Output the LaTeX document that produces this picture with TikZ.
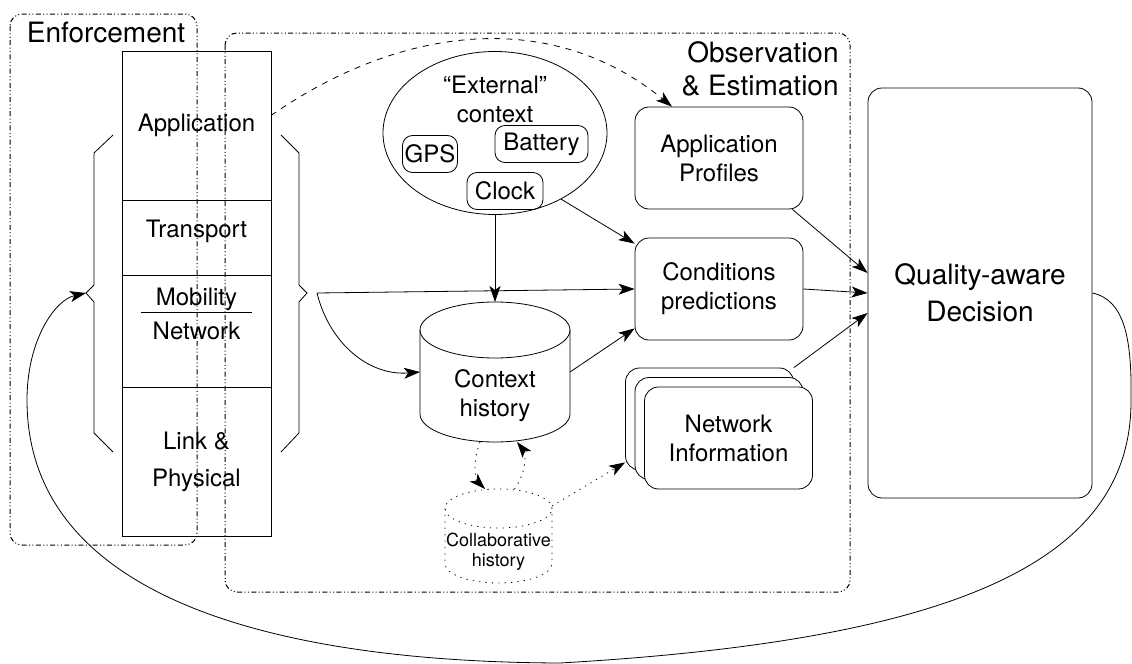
\documentclass[tikz,border=0pt]{standalone}
\usepackage{fontspec}
\setmainfont{TeX Gyre Heros}
\usetikzlibrary{positioning,shapes.geometric,arrows.meta}

\tikzset{
  groupbox/.style={line width=0.5pt, rounded corners=6pt,
    dash pattern=on 2.5pt off 1.2pt on 0.5pt off 1.2pt on 0.5pt off 1.2pt},
  layerbox/.style={draw, outer sep=0pt, minimum width=74.5pt, align=center},
  ctxbox/.style={draw, rounded corners=5pt, minimum height=18.5pt, inner sep=1pt},
  infobox/.style={draw, fill=white, rounded corners=7pt, minimum width=84pt,
    minimum height=51pt, align=center},
  store/.style={outer sep=0pt, inner sep=0pt},
  arr/.style={-{Stealth[length=8pt,width=5.5pt,inset=2pt]}},
  dotline/.style={dash pattern=on 0.6pt off 2.6pt},
}

\begin{document}
\begin{tikzpicture}[x=0.5pt, y=-0.5pt, font=\fontsize{12}{14.5}\selectfont]
\useasboundingbox (0,0) rectangle (1132,664);

% the two groups
\draw[groupbox] (10,14) rectangle (197,545);
\draw[groupbox] (225,33) rectangle (850,592);
\node (enflbl) [font=\fontsize{14}{17}\selectfont] at (106,32) {Enforcement};
\node (obslbl) [anchor=north east, inner sep=0pt, align=right,
  font=\fontsize{14}{16.5}\selectfont] at (839,41) {Observation\\\& Estimation};

% protocol stack
\node (app) [layerbox, minimum height=74.5pt] at (196.5,125.5) {Application};
\node (trans) [layerbox, minimum height=37.5pt, text depth=9pt, below=0pt of app] {Transport};
\node (mobnet) [layerbox, minimum height=56pt, below=0pt of trans] {};
\node (link) [layerbox, minimum height=74.5pt, below=0pt of mobnet] {Link \&\\[4pt]Physical};
\node (mob) at ([yshift=-12pt]mobnet.north) {Mobility};
\node (netw) at ([yshift=-28pt]mobnet.north) {Network};
\draw (141,312) -- (252,312);

% braces
\draw (113,135) -- (94,153) -- (94,285) -- (86,293) coordinate (ltip)
  -- (94,302) -- (94,433) -- (113,452);
\draw (281,135) -- (299,153) -- (299,285) -- (307,293)
  -- (299,302) -- (299,433) -- (281,452);
\coordinate (rout) at (317,293);

% external context
\node (ext) [draw, ellipse, minimum width=112pt, minimum height=81.5pt] at (495,133) {};
\node (extlbl) [align=center] at (495,99) {``External''\\context};
\node (gps) [ctxbox, minimum width=27.5pt] at (430,154) {GPS};
\node (batt) [ctxbox, minimum width=46.5pt] at (541.5,144) {Battery};
\node (clock) [ctxbox, minimum width=38pt] at (505,191) {Clock};

% estimation blocks
\node (prof) [infobox] at (719,158) {Application\\Profiles};
\node (cond) [infobox] at (719,289) {Conditions\\predictions};

\node (hist) [store, minimum width=75pt, minimum height=70pt] at (495,372) {};
\draw ([yshift=-14pt]hist.north) ellipse [x radius=37.5pt, y radius=14pt];
\draw ([yshift=-14pt]hist.north west) -- ([yshift=14pt]hist.south west)
  arc [start angle=180, end angle=360, x radius=37.5pt, y radius=14pt]
  -- ([yshift=-14pt]hist.north east);
\node (histlbl) [align=center] at (495,396) {Context\\history};

\node (coll) [store, minimum width=53.5pt, minimum height=47pt] at (498.5,536) {};
\draw[dotline] ([yshift=-9.75pt]coll.north) ellipse [x radius=26.75pt, y radius=9.75pt];
\draw[dotline] ([yshift=-9.75pt]coll.north west) -- ([yshift=9.75pt]coll.south west)
  arc [start angle=180, end angle=360, x radius=26.75pt, y radius=9.75pt]
  -- ([yshift=-9.75pt]coll.north east);
\node (colllbl) [align=center, font=\fontsize{9}{10}\selectfont] at (498.5,552) {Collaborative\\history};

\node (netc) [infobox] at (709.5,419) {};
\node (netb) [infobox] at (719,428.5) {};
\node (neta) [infobox] at (728.5,438) {Network\\Information};

% decision
\node (dec) [draw, rounded corners=7pt, minimum width=112pt, minimum height=205pt,
  align=center, font=\fontsize{14}{18.5}\selectfont] at (980,293) {Quality-aware\\Decision};

\path[arr]
  (ext.south) edge (hist.north)
  (ext.-45) edge ([yshift=-3pt]cond.north west)
  (rout) edge (cond.west)
  (hist.east) edge ([yshift=6pt]cond.south west)
  (prof.-35) edge ([yshift=10pt]dec.west)
  (cond.east) edge (dec.west)
  (netc.north east) edge ([yshift=-10pt]dec.west);

\draw[arr] (rout) .. controls (330,345) and (370,376) .. (hist.west);
\draw[arr, dashed] ([yshift=5pt]app.east) .. controls (400,26) and (550,7) .. ([xshift=-23.5pt]prof.north);

\draw[arr, dotline] ([xshift=-7.5pt]hist.south) .. controls (470,470) and (478,482) .. ([xshift=-6.75pt]coll.north);
\draw[arr, dotline] ([xshift=8pt]coll.north) .. controls (528,470) and (525,452) .. ([xshift=11pt]hist.south);
\draw[arr, dotline] ([yshift=15pt]coll.east) -- ([yshift=4pt]netc.south west);

% feedback loop
\draw[arr] (dec.east) .. controls (1125,300) and (1132,340) .. (1131,400)
  .. controls (1132,560) and (960,640) .. (560,663)
  .. controls (280,662) and (27,600) .. (27,400)
  .. controls (27,340) and (55,300) .. (ltip);
\end{tikzpicture}
\end{document}
